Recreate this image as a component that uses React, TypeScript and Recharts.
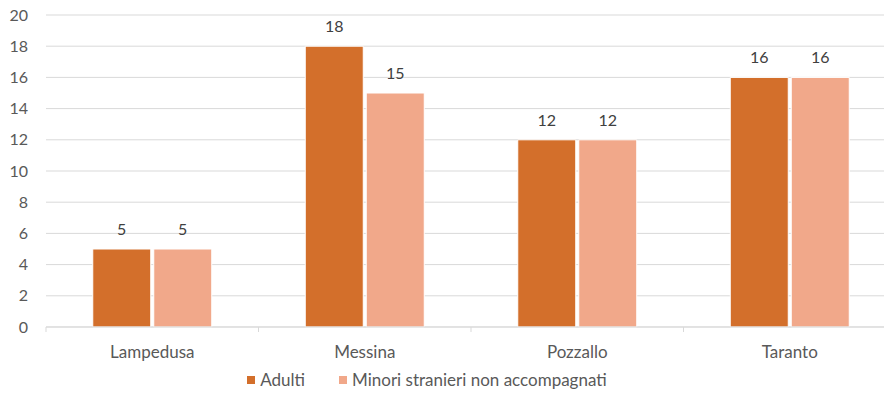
import { Bar, BarChart, CartesianGrid, LabelList, Legend, XAxis, YAxis } from "recharts";

const categories = ["Lampedusa", "Messina", "Pozzallo", "Taranto"];
const adulti = [5, 18, 12, 16];
const minori = [5, 15, 12, 16];
const yTicks = [0, 2, 4, 6, 8, 10, 12, 14, 16, 18, 20];

const data = categories.map((name, i) => ({ name, adulti: adulti[i], minori: minori[i] }));

const FONT = "Lato, 'Open Sans', sans-serif";
const TEXT = "#595959";
const GRID = "#D9D9D9";
const ADULTI = "#D36F2B";
const MINORI = "#F1A88A";

// category label plus a short tick mark on the left boundary of each band
const CategoryTick = ({ x, y, payload }: any) => {
  const off = payload?.offset ?? 0;
  return (
    <g>
      <line x1={x - off} x2={x - off} y1={y} y2={y + 5} stroke={GRID} />
      <text x={x} y={y + 31} textAnchor="middle" fill={TEXT} fontSize={17} fontFamily={FONT}>
        {payload.value}
      </text>
    </g>
  );
};

const LegendContent = ({ payload }: any) => (
  <div style={{ display: "flex", justifyContent: "center", gap: 34, paddingRight: 30, fontFamily: FONT, fontSize: 17, color: TEXT }}>
    {(payload || []).map((p: any) => (
      <div key={p.value} style={{ display: "flex", alignItems: "center" }}>
        <span style={{ display: "inline-block", width: 8, height: 8, background: p.color, marginRight: 5 }} />
        <span>{p.value}</span>
      </div>
    ))}
  </div>
);

const App = () => {
  return (
    <div style={{ position: "absolute", left: 0, top: 0, width: 884, height: 397, overflow: "hidden", background: "#fff" }}>
      <BarChart
        width={900}
        height={397}
        data={data}
        margin={{ top: 15, right: 4, left: 0, bottom: 0 }}
        barCategoryGap="22%"
        barGap={3}
      >
        <CartesianGrid vertical={false} stroke={GRID} />
        <XAxis
          dataKey="name"
          axisLine={{ stroke: GRID }}
          tickLine={false}
          tickSize={0}
          tickMargin={0}
          height={42}
          tick={<CategoryTick />}
          interval={0}
        />
        <YAxis
          domain={[0, 20]}
          ticks={yTicks}
          axisLine={false}
          tickLine={false}
          tickSize={0}
          tickMargin={18}
          width={46}
          tick={{ fill: TEXT, fontSize: 16, fontFamily: FONT }}
        />
        <Legend
          verticalAlign="bottom"
          height={28}
          wrapperStyle={{ width: 884, left: 0 }}
          content={<LegendContent />}
        />
        <Bar dataKey="adulti" name="Adulti" fill={ADULTI} stroke="#fff" strokeWidth={1} isAnimationActive={false}>
          <LabelList dataKey="adulti" position="top" offset={14} fill="#404040" fontSize={16} fontFamily={FONT} />
        </Bar>
        <Bar
          dataKey="minori"
          name="Minori stranieri non accompagnati"
          fill={MINORI}
          stroke="#fff"
          strokeWidth={1}
          isAnimationActive={false}
        >
          <LabelList dataKey="minori" position="top" offset={14} fill="#404040" fontSize={16} fontFamily={FONT} />
        </Bar>
      </BarChart>
    </div>
  );
};

export default App;
